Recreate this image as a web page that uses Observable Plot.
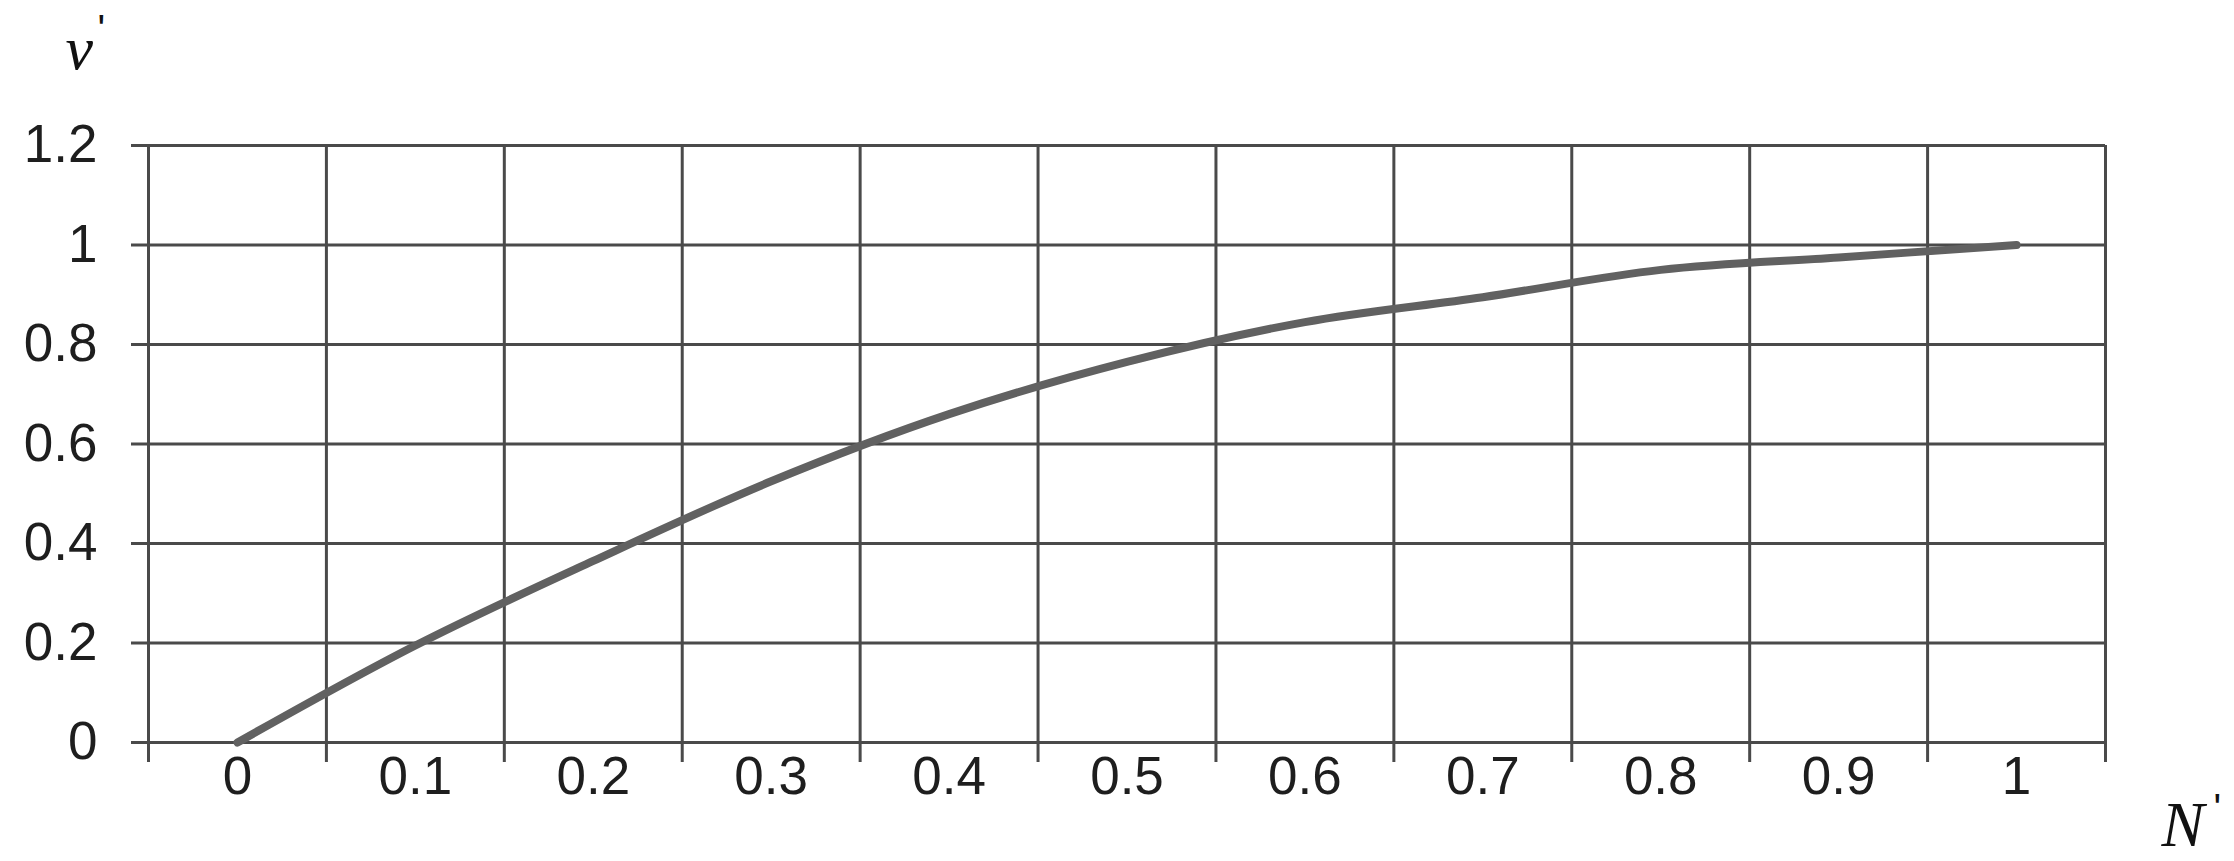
<!DOCTYPE html>
<html>
<head>
<meta charset="utf-8">
<script src="https://cdn.jsdelivr.net/npm/d3@7"></script>
<script src="https://cdn.jsdelivr.net/npm/@observablehq/plot@0.6"></script>
<style>
  html, body { margin: 0; padding: 0; background: #ffffff; }
</style>
</head>
<body>
<div id="chart"></div>
<script>
// Categories on the horizontal axis (N')
const N = [0, 0.1, 0.2, 0.3, 0.4, 0.5, 0.6, 0.7, 0.8, 0.9, 1];
const xLabels = ["0", "0.1", "0.2", "0.3", "0.4", "0.5", "0.6", "0.7", "0.8", "0.9", "1"];
// Series values (v')
const v = [0, 0.195, 0.365, 0.525, 0.66, 0.765, 0.845, 0.895, 0.95, 0.975, 1.0];
// Vertical axis ticks
const yTicks = [0, 0.2, 0.4, 0.6, 0.8, 1, 1.2];
const yLabels = ["0", "0.2", "0.4", "0.6", "0.8", "1", "1.2"];

const step = 0.1;
const bounds = [...N.map(d => +(d - step / 2).toFixed(2)), +(N[N.length - 1] + step / 2).toFixed(2)];
const data = N.map((d, i) => ({N: d, v: v[i], label: xLabels[i]}));

const grid = "#4a4a4a";

const chart = Plot.plot({
  width: 2234,
  height: 861,
  marginLeft: 148,
  marginRight: 129,
  marginTop: 145,
  marginBottom: 119,
  style: {fontFamily: "'Liberation Sans', Arial, sans-serif", fontSize: "53px", color: "#1e1e1e", background: "#ffffff"},
  x: {domain: [bounds[0], bounds[bounds.length - 1]], axis: null},
  y: {domain: [yTicks[0], yTicks[yTicks.length - 1]], ticks: yTicks, tickSize: 0, tickPadding: 51,
      tickFormat: d => yLabels[yTicks.indexOf(+d.toFixed(1))], label: null},
  marks: [
    Plot.ruleX(bounds, {x: d => d, y1: yTicks[yTicks.length - 1], y2: yTicks[0], insetBottom: -20, stroke: grid, strokeWidth: 3}),
    Plot.ruleY(yTicks, {y: d => d, x1: bounds[0], x2: bounds[bounds.length - 1], insetLeft: -17, stroke: grid, strokeWidth: 3}),
    Plot.line(data, {x: "N", y: "v", stroke: "#616161", strokeWidth: 8, strokeLinecap: "round", strokeLinejoin: "round", curve: "catmull-rom"}),
    Plot.text(data, {x: "N", text: "label", frameAnchor: "bottom", dy: 35, lineAnchor: "middle", fill: "#1e1e1e"}),
    Plot.text(["v"], {frameAnchor: "top-left", dx: -83, dy: -77, text: d => d, textAnchor: "start", lineAnchor: "bottom",
      fontFamily: "'Liberation Serif', 'Times New Roman', serif", fontStyle: "italic", fontSize: 62, fill: "#111"}),
    Plot.text(["'"], {frameAnchor: "top-left", dx: -51, dy: -103, text: d => d, textAnchor: "start", lineAnchor: "bottom",
      fontFamily: "'Liberation Sans', Arial, sans-serif", fontSize: 40, fill: "#111"}),
    Plot.text(["N"], {frameAnchor: "bottom-right", dx: 56, dy: 103, text: d => d, textAnchor: "start", lineAnchor: "bottom",
      fontFamily: "'Liberation Serif', 'Times New Roman', serif", fontStyle: "italic", fontSize: 64, fill: "#111"}),
    Plot.text(["'"], {frameAnchor: "bottom-right", dx: 108, dy: 79, text: d => d, textAnchor: "start", lineAnchor: "bottom",
      fontFamily: "'Liberation Sans', Arial, sans-serif", fontSize: 40, fill: "#111"})
  ]
});
document.getElementById("chart").appendChild(chart);
</script>
</body>
</html>
